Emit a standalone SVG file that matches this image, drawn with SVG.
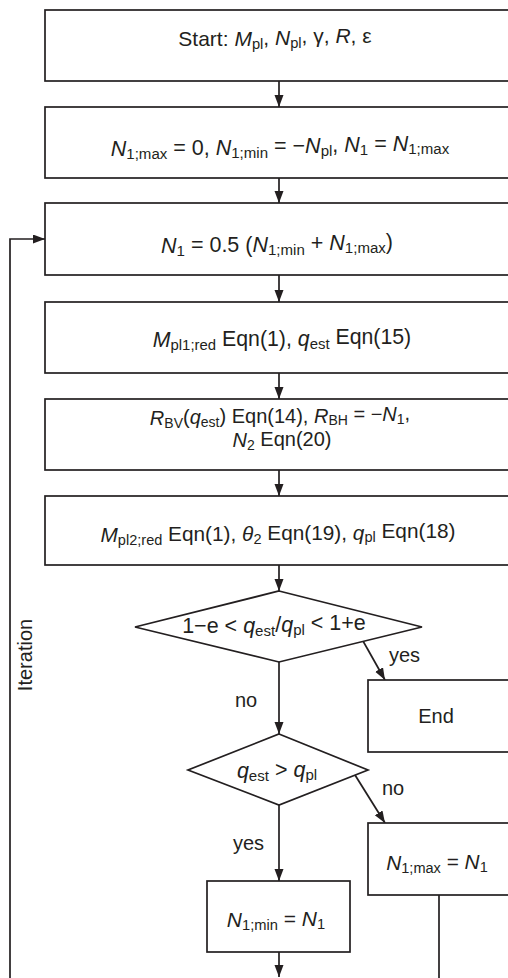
<svg xmlns="http://www.w3.org/2000/svg" width="508" height="978" viewBox="0 0 508 978">
<style>
.box{fill:#fff;stroke:#231f20;stroke-width:1.7}
.ln{fill:none;stroke:#231f20;stroke-width:1.7}
text{font-family:"Liberation Sans",Arial,sans-serif;font-size:20px;fill:#231f20}
.t{text-anchor:middle}
.i{font-style:italic}
.s{font-size:0.7em}
</style>
<defs>
<marker id="ah" markerUnits="userSpaceOnUse" markerWidth="12" markerHeight="10" refX="12" refY="4.5" orient="auto">
<path d="M0,0 L12,4.5 L0,9 z" fill="#231f20"/>
</marker>
</defs>
<rect width="508" height="978" fill="#fff"/>
<g id="connectors">
<line class="ln" x1="279" y1="81" x2="279" y2="107" marker-end="url(#ah)"/>
<line class="ln" x1="279" y1="178" x2="279" y2="203" marker-end="url(#ah)"/>
<line class="ln" x1="279" y1="275" x2="279" y2="302" marker-end="url(#ah)"/>
<line class="ln" x1="279" y1="373" x2="279" y2="399" marker-end="url(#ah)"/>
<line class="ln" x1="279" y1="470" x2="279" y2="496" marker-end="url(#ah)"/>
<line class="ln" x1="279" y1="565" x2="279" y2="591" marker-end="url(#ah)"/>
<line class="ln" x1="363" y1="641" x2="385" y2="680" marker-end="url(#ah)"/>
<line class="ln" x1="279" y1="662" x2="279" y2="734" marker-end="url(#ah)"/>
<line class="ln" x1="355" y1="775" x2="385" y2="823" marker-end="url(#ah)"/>
<line class="ln" x1="279" y1="805" x2="279" y2="881" marker-end="url(#ah)"/>
<line class="ln" x1="279" y1="952" x2="279" y2="977" marker-end="url(#ah)"/>
<line class="ln" x1="439" y1="895" x2="439" y2="978"/>
<polyline class="ln" points="10,978 10,239 45,239" marker-end="url(#ah)"/>
</g>
<g id="start">
<rect class="box" x="45" y="10" width="470" height="71"/>
<text class="t" x="275" y="46" style="font-size:21px">Start: <tspan class="i">M</tspan><tspan class="s" dy="0.2em">pl</tspan><tspan dy="-0.2em">, </tspan><tspan class="i">N</tspan><tspan class="s" dy="0.2em">pl</tspan><tspan dy="-0.2em">, γ, </tspan><tspan class="i">R</tspan>, ε</text>
</g>
<g id="init">
<rect class="box" x="45" y="107" width="470" height="71"/>
<text class="t" x="280" y="156" style="font-size:21.5px"><tspan class="i">N</tspan><tspan class="s" dy="0.2em">1;max</tspan><tspan dy="-0.2em"> = 0, </tspan><tspan class="i">N</tspan><tspan class="s" dy="0.2em">1;min</tspan><tspan dy="-0.2em"> = −</tspan><tspan class="i">N</tspan><tspan class="s" dy="0.2em">pl</tspan><tspan dy="-0.2em">, </tspan><tspan class="i">N</tspan><tspan class="s" dy="0.2em">1</tspan><tspan dy="-0.2em"> = </tspan><tspan class="i">N</tspan><tspan class="s" dy="0.2em">1;max</tspan></text>
</g>
<g id="bisect">
<rect class="box" x="45" y="203" width="470" height="72"/>
<text class="t" x="277" y="253" style="font-size:21.5px"><tspan class="i">N</tspan><tspan class="s" dy="0.2em">1</tspan><tspan dy="-0.2em"> = 0.5 (</tspan><tspan class="i">N</tspan><tspan class="s" dy="0.2em">1;min</tspan><tspan dy="-0.2em"> + </tspan><tspan class="i">N</tspan><tspan class="s" dy="0.2em">1;max</tspan><tspan dy="-0.2em">)</tspan></text>
</g>
<g id="mpl1">
<rect class="box" x="45" y="302" width="470" height="71"/>
<text class="t" x="282" y="347" style="font-size:21.3px"><tspan class="i">M</tspan><tspan class="s" dy="0.2em">pl1;red</tspan><tspan dy="-0.2em"> Eqn(1), </tspan><tspan class="i">q</tspan><tspan class="s" dy="0.2em">est</tspan><tspan dy="-0.2em"> Eqn(15)</tspan></text>
</g>
<g id="rbv">
<rect class="box" x="45" y="399" width="470" height="71"/>
<text class="t" x="280" y="425"><tspan class="i">R</tspan><tspan class="s" dy="0.2em">BV</tspan><tspan dy="-0.2em">(</tspan><tspan class="i">q</tspan><tspan class="s" dy="0.2em">est</tspan><tspan dy="-0.2em">) Eqn(14), </tspan><tspan class="i">R</tspan><tspan class="s" dy="0.2em">BH</tspan><tspan dy="-0.2em"> = −</tspan><tspan class="i">N</tspan><tspan class="s" dy="0.2em">1</tspan><tspan dy="-0.2em">,</tspan></text>
<text class="t" x="282" y="447"><tspan class="i">N</tspan><tspan class="s" dy="0.2em">2</tspan><tspan dy="-0.2em"> Eqn(20)</tspan></text>
</g>
<g id="mpl2">
<rect class="box" x="45" y="496" width="470" height="69"/>
<text class="t" x="278" y="542" style="font-size:20.8px"><tspan class="i">M</tspan><tspan class="s" dy="0.2em">pl2;red</tspan><tspan dy="-0.2em"> Eqn(1), </tspan><tspan class="i">θ</tspan><tspan class="s" dy="0.2em">2</tspan><tspan dy="-0.2em"> Eqn(19), </tspan><tspan class="i">q</tspan><tspan class="s" dy="0.2em">pl</tspan><tspan dy="-0.2em"> Eqn(18)</tspan></text>
</g>
<g id="check">
<polygon class="box" points="279,591 422,627 279,662 135,627"/>
<text class="t" x="274" y="633" style="font-size:21.5px">1−e &lt; <tspan class="i">q</tspan><tspan class="s" dy="0.2em">est</tspan><tspan dy="-0.2em">/</tspan><tspan class="i">q</tspan><tspan class="s" dy="0.2em">pl</tspan><tspan dy="-0.2em"> &lt; 1+e</tspan></text>
</g>
<g id="end">
<rect class="box" x="368" y="680" width="150" height="72"/>
<text class="t" x="436" y="723">End</text>
</g>
<g id="compare">
<polygon class="box" points="279,734 368,770 279,805 188,770"/>
<text class="t" x="277" y="778" style="font-size:21.5px"><tspan class="i">q</tspan><tspan class="s" dy="0.2em">est</tspan><tspan dy="-0.2em"> &gt; </tspan><tspan class="i">q</tspan><tspan class="s" dy="0.2em">pl</tspan></text>
</g>
<g id="nmax">
<rect class="box" x="368" y="823" width="150" height="72"/>
<text class="t" x="437" y="870" style="font-size:20.8px"><tspan class="i">N</tspan><tspan class="s" dy="0.2em">1;max</tspan><tspan dy="-0.2em"> = </tspan><tspan class="i">N</tspan><tspan class="s" dy="0.2em">1</tspan></text>
</g>
<g id="nmin">
<rect class="box" x="207" y="881" width="143" height="71"/>
<text class="t" x="276" y="927" style="font-size:21px"><tspan class="i">N</tspan><tspan class="s" dy="0.2em">1;min</tspan><tspan dy="-0.2em"> = </tspan><tspan class="i">N</tspan><tspan class="s" dy="0.2em">1</tspan></text>
</g>
<g id="labels">
<text x="389" y="662">yes</text>
<text x="235" y="707">no</text>
<text x="382" y="795">no</text>
<text x="233" y="850">yes</text>
<text class="t" transform="translate(32,655) rotate(-90)">Iteration</text>
</g>
</svg>
